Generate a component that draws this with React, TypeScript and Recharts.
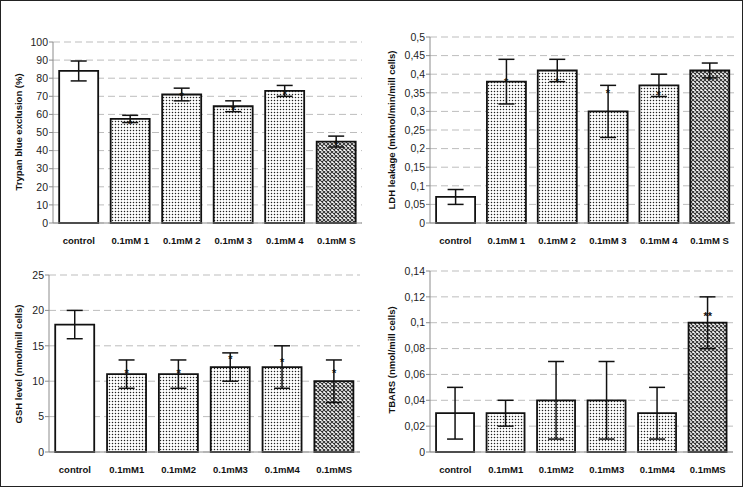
import { Bar, CartesianGrid, Cell, ComposedChart, ErrorBar, Line, XAxis, YAxis } from "recharts";

const topCategories = ["control", "0.1mM 1", "0.1mM 2", "0.1mM 3", "0.1mM 4", "0.1mM S"];
const bottomCategories = ["control", "0.1mM1", "0.1mM2", "0.1mM3", "0.1mM4", "0.1mMS"];

const trypanValues = [84, 57.5, 71, 64.5, 73, 45];
const trypanErrors = [5.5, 2, 3.5, 3, 3, 3];
const trypanMarks = [null, 56, 71, 63.5, 72.5, 44.5];
const trypanTicks = [0, 10, 20, 30, 40, 50, 60, 70, 80, 90, 100];

const ldhValues = [0.07, 0.38, 0.41, 0.3, 0.37, 0.41];
const ldhErrors = [0.02, 0.06, 0.03, 0.07, 0.03, 0.02];
const ldhMarks = [null, 0.385, 0.385, 0.355, 0.35, 0.39];
const ldhTicks = [0, 0.05, 0.1, 0.15, 0.2, 0.25, 0.3, 0.35, 0.4, 0.45, 0.5];

const gshValues = [18, 11, 11, 12, 12, 10];
const gshErrors = [2, 2, 2, 2, 3, 3];
const gshMarks = [null, 11.5, 11.5, 13.4, 13, 11.5];
const gshTicks = [0, 5, 10, 15, 20, 25];

const tbarsValues = [0.03, 0.03, 0.04, 0.04, 0.03, 0.1];
const tbarsErrors = [0.02, 0.01, 0.03, 0.03, 0.02, 0.02];
const tbarsMarks = [null, null, null, null, null, 0.107];
const tbarsTicks = [0, 0.02, 0.04, 0.06, 0.08, 0.1, 0.12, 0.14];

const commaFormat = (v: number) => String(v).replace(".", ",");

function Panel(p: any) {
	const data = p.categories.map((name: string, i: number) => ({
		name,
		value: p.values[i],
		err: p.errors[i],
		mark: p.marks[i],
	}));
	const fillFor = (i: number) =>
		i === 0 ? "#ffffff" : i === 5 ? `url(#cross-${p.id})` : `url(#dots-${p.id})`;

	const markDot = (props: any) => {
		const { cx, cy, index } = props;
		if (cy == null || data[index].mark == null) return <g key={`m${index}`} />;
		return (
			<text
				key={`m${index}`}
				x={cx}
				y={cy + 6}
				textAnchor="middle"
				fontSize={11}
				fontWeight="bold"
				fill="#111"
			>
				{p.markText}
			</text>
		);
	};

	return (
		<div style={{ position: "absolute", left: p.left, top: p.top }}>
			<ComposedChart
				width={p.width}
				height={p.height}
				data={data}
				margin={p.margin}
				barCategoryGap="12%"
			>
				<defs>
					<pattern id={`dots-${p.id}`} width="3" height="3" patternUnits="userSpaceOnUse">
						<rect width="3" height="3" fill="#ffffff" />
						<circle cx="1.5" cy="1.5" r="0.75" fill="#222" />
					</pattern>
					<pattern id={`cross-${p.id}`} width="4" height="4" patternUnits="userSpaceOnUse">
						<rect width="4" height="4" fill="#ffffff" />
						<path d="M0,0 L4,4 M4,0 L0,4" stroke="#333" strokeWidth="1.1" />
					</pattern>
				</defs>
				<CartesianGrid vertical={false} stroke="#bdbdbd" strokeDasharray="7 4" />
				<XAxis
					dataKey="name"
					height={20}
					interval={0}
					tickLine={false}
					tickSize={6}
					tickMargin={8}
					axisLine={{ stroke: "#8c8c8c" }}
					tick={{ fontSize: 9.5, fontWeight: "bold", fill: "#111" }}
				/>
				<YAxis
					width={p.yWidth}
					domain={[0, p.ticks[p.ticks.length - 1]]}
					ticks={p.ticks}
					interval={0}
					tickSize={4}
					tickMargin={1}
					tickLine={{ stroke: "#8c8c8c" }}
					axisLine={{ stroke: "#8c8c8c" }}
					tick={{ fontSize: 10.5, fill: "#222" }}
					tickFormatter={p.comma ? commaFormat : undefined}
					label={() => (
						<text
							x={18}
							y={p.titleY}
							transform={`rotate(-90 18 ${p.titleY})`}
							textAnchor="middle"
							dominantBaseline="central"
							fontSize={9.5}
							fontWeight="bold"
							fill="#111"
						>
							{p.title}
						</text>
					)}
				/>
				<Bar dataKey="value" stroke="#111" strokeWidth={1.8} isAnimationActive={false}>
					{data.map((_: any, i: number) => (
						<Cell key={i} fill={fillFor(i)} />
					))}
					<ErrorBar dataKey="err" width={8} stroke="#111" strokeWidth={1.5} />
				</Bar>
				<Line
					dataKey="mark"
					stroke="none"
					dot={markDot}
					activeDot={false}
					legendType="none"
					isAnimationActive={false}
				/>
			</ComposedChart>
		</div>
	);
}

export default function App() {
	return (
		<div
			style={{
				position: "absolute",
				left: 0,
				top: 0,
				width: 746,
				height: 488,
				background: "#fff",
				fontFamily: "'Liberation Sans', Arial, sans-serif",
			}}
		>
			<Panel
				id="p1"
				left={0}
				top={0}
				width={373}
				height={250}
				margin={{ top: 42, right: 11, bottom: 7, left: 0 }}
				yWidth={53}
				title="Trypan blue exclusion (%)"
				titleY={132}
				categories={topCategories}
				values={trypanValues}
				errors={trypanErrors}
				marks={trypanMarks}
				markText="*"
				ticks={trypanTicks}
			/>
			<Panel
				id="p2"
				left={373}
				top={0}
				width={373}
				height={250}
				margin={{ top: 37, right: 11, bottom: 7, left: 0 }}
				yWidth={57}
				title="LDH leakage (mkmol/min/mill cells)"
				titleY={130}
				categories={topCategories}
				values={ldhValues}
				errors={ldhErrors}
				marks={ldhMarks}
				markText="*"
				ticks={ldhTicks}
				comma
			/>
			<Panel
				id="p3"
				left={0}
				top={250}
				width={373}
				height={238}
				margin={{ top: 25, right: 13, bottom: 16, left: 0 }}
				yWidth={49}
				title="GSH level (nmol/mill cells)"
				titleY={114}
				categories={bottomCategories}
				values={gshValues}
				errors={gshErrors}
				marks={gshMarks}
				markText="*"
				ticks={gshTicks}
			/>
			<Panel
				id="p4"
				left={373}
				top={250}
				width={373}
				height={238}
				margin={{ top: 21, right: 13, bottom: 16, left: 0 }}
				yWidth={57}
				title="TBARS (nmol/mill cells)"
				titleY={110}
				categories={bottomCategories}
				values={tbarsValues}
				errors={tbarsErrors}
				marks={tbarsMarks}
				markText="**"
				ticks={tbarsTicks}
				comma
			/>
			<div
				style={{
					position: "absolute",
					left: 0,
					top: 0,
					width: 743,
					height: 487,
					border: "1px solid #222",
					boxSizing: "border-box",
					pointerEvents: "none",
				}}
			/>
		</div>
	);
}
